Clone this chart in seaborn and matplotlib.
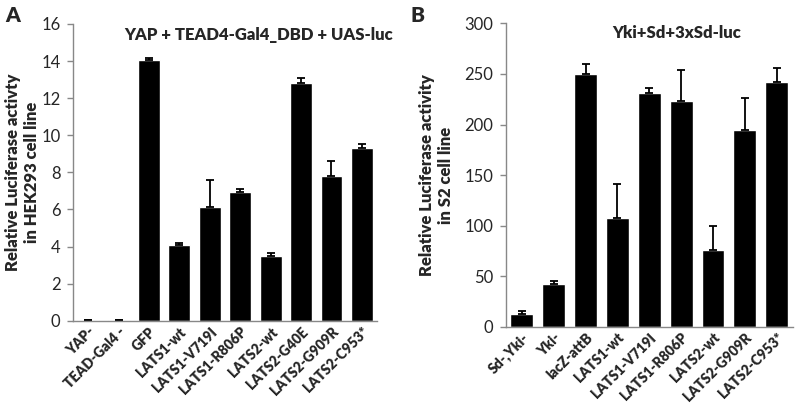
import numpy as np
import pandas as pd
import seaborn as sns
import matplotlib.pyplot as plt

# panel A: HEK293
labels_a = ["YAP-", "TEAD-Gal4 -", "GFP", "LATS1-wt", "LATS1-V719I", "LATS1-R806P",
            "LATS2-wt", "LATS2-G40E", "LATS2-G909R", "LATS2-C953*"]
values_a = [0.02, 0.03, 14.05, 4.1, 6.15, 6.95, 3.5, 12.8, 7.8, 9.3]
errors_a = [0.0, 0.0, 0.12, 0.12, 1.45, 0.15, 0.15, 0.3, 0.8, 0.25]

# panel B: S2
labels_b = ["Sd-,Yki-", "Yki-", "lacZ-attB", "LATS1-wt", "LATS1-V719I", "LATS1-R806P",
            "LATS2-wt", "LATS2-G909R", "LATS2-C953*"]
values_b = [13, 42, 250, 108, 231, 223, 76, 195, 242]
errors_b = [3, 3, 10, 33, 5, 31, 24, 31, 14]

sns.set_style("white")
plt.rcParams['font.family'] = ['Lato', 'DejaVu Sans']

fig = plt.figure(figsize=(7.96, 4.04), dpi=100)
ax_a = fig.add_axes([0.0917, 0.206, 0.382, 0.7346])
ax_b = fig.add_axes([0.6357, 0.1913, 0.360, 0.7507])


def draw_panel(ax, labels, values, errors, ymax, ystep, title, ylabel, title_x, title_y, label_x):
    df = pd.DataFrame({"cond": labels, "val": values})
    sns.barplot(data=df, x="cond", y="val", color="black", width=0.72,
                errorbar=None, ax=ax, saturation=1)
    x = np.arange(len(labels))
    ax.errorbar(x, values, yerr=[np.zeros(len(errors)), errors], fmt="none",
                ecolor="black", elinewidth=1.3, capsize=3, capthick=1.3)
    ax.set_ylim(0, ymax)
    ax.set_xlim(-0.5, len(labels) - 0.5)
    ax.set_yticks(np.arange(0, ymax + ystep / 2, ystep))
    ax.set_xlabel("")
    ax.set_ylabel(ylabel, fontsize=12, fontweight="heavy", linespacing=1.25)
    ax.yaxis.set_label_coords(label_x, 0.5)
    ax.set_xticks(x)
    ax.set_xticklabels(labels, rotation=45, ha="right", rotation_mode="anchor",
                       fontsize=10, fontweight="heavy")
    ax.tick_params(axis="x", which="major", length=0, pad=3)
    ax.set_xticks(np.arange(-0.5, len(labels)), minor=True)
    ax.tick_params(axis="x", which="minor", length=4, color="#888888", width=1, direction="out")
    ax.tick_params(axis="y", length=4, color="#888888", width=1, direction="out",
                   labelsize=12, left=True, pad=5)
    for side in ["top", "right"]:
        ax.spines[side].set_visible(False)
    for side in ["left", "bottom"]:
        ax.spines[side].set_color("#888888")
        ax.spines[side].set_linewidth(1)
    ax.text(title_x, title_y, title, transform=ax.transAxes, ha="center", va="center",
            fontsize=12, fontweight="heavy")


draw_panel(ax_a, labels_a, values_a, errors_a, 16, 2,
           "YAP + TEAD4-Gal4_DBD + UAS-luc",
           "Relative Luciferase activty\nin HEK293 cell line", 0.61, 0.963, -0.108)
draw_panel(ax_b, labels_b, values_b, errors_b, 300, 50,
           "Yki+Sd+3xSd-luc",
           "Relative Luciferase activity\nin S2 cell line", 0.595, 0.967, -0.18)

fig.text(0.006, 0.985, "A", fontsize=15, fontweight="heavy", va="top", ha="left")
fig.text(0.516, 0.985, "B", fontsize=15, fontweight="heavy", va="top", ha="left")

fig.savefig("out.png", dpi=100)
